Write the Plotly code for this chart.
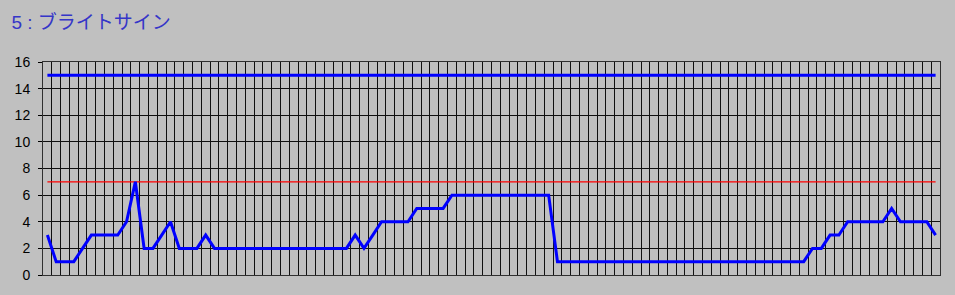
import plotly.graph_objects as go

title_text = "5 : ブライトサイン"
values = [3, 1, 1, 1, 2, 3, 3, 3, 3, 4, 7, 2, 2, 3, 4, 2, 2, 2, 3, 2,
          2, 2, 2, 2, 2, 2, 2, 2, 2, 2, 2, 2, 2, 2, 2, 3, 2, 3, 4, 4,
          4, 4, 5, 5, 5, 5, 6, 6, 6, 6, 6, 6, 6, 6, 6, 6, 6, 6, 1, 1,
          1, 1, 1, 1, 1, 1, 1, 1, 1, 1, 1, 1, 1, 1, 1, 1, 1, 1, 1, 1,
          1, 1, 1, 1, 1, 1, 1, 2, 2, 3, 3, 4, 4, 4, 4, 4, 5, 4, 4, 4,
          4, 3]
x_index = list(range(len(values)))
upper_level = [15, 15]
lower_level = [7, 7]
level_x = [x_index[0], x_index[-1]]
y_ticks = [0, 2, 4, 6, 8, 10, 12, 14, 16]

fig = go.Figure()
fig.add_trace(go.Scatter(x=level_x, y=upper_level, mode="lines",
                         line=dict(color="#0000FF", width=3), hoverinfo="skip"))
fig.add_trace(go.Scatter(x=level_x, y=lower_level, mode="lines",
                         line=dict(color="#FF0000", width=1.3), hoverinfo="skip"))
fig.add_trace(go.Scatter(x=x_index, y=values, mode="lines",
                         line=dict(color="#0000FF", width=3)))

fig.update_layout(
    width=955, height=295,
    margin=dict(l=43, r=15, t=62, b=16),
    paper_bgcolor="#C0C0C0", plot_bgcolor="#C0C0C0",
    showlegend=False,
    title=dict(text=title_text, x=0.012, xanchor="left", y=0.925, yanchor="middle",
               font=dict(family="Liberation Sans, Noto Sans CJK JP", size=19, color="#3535C8")),
    xaxis=dict(range=[-0.5, len(values) - 0.5], tickmode="linear", tick0=-0.5, dtick=1,
               showticklabels=False, ticks="", showgrid=True, gridcolor="#101010", gridwidth=1,
               zeroline=False, showline=True, linecolor="#303030", linewidth=1, mirror=True),
    yaxis=dict(range=[0, 16], tickvals=y_ticks, ticks="outside", ticklen=4, tickcolor="#000000",
               tickfont=dict(family="Liberation Sans", size=14, color="#000000"),
               showgrid=True, gridcolor="#101010", gridwidth=1, zeroline=False,
               showline=True, linecolor="#303030", linewidth=1, mirror=True,
               ticklabelstandoff=5),
)

fig.write_html("out.html")
